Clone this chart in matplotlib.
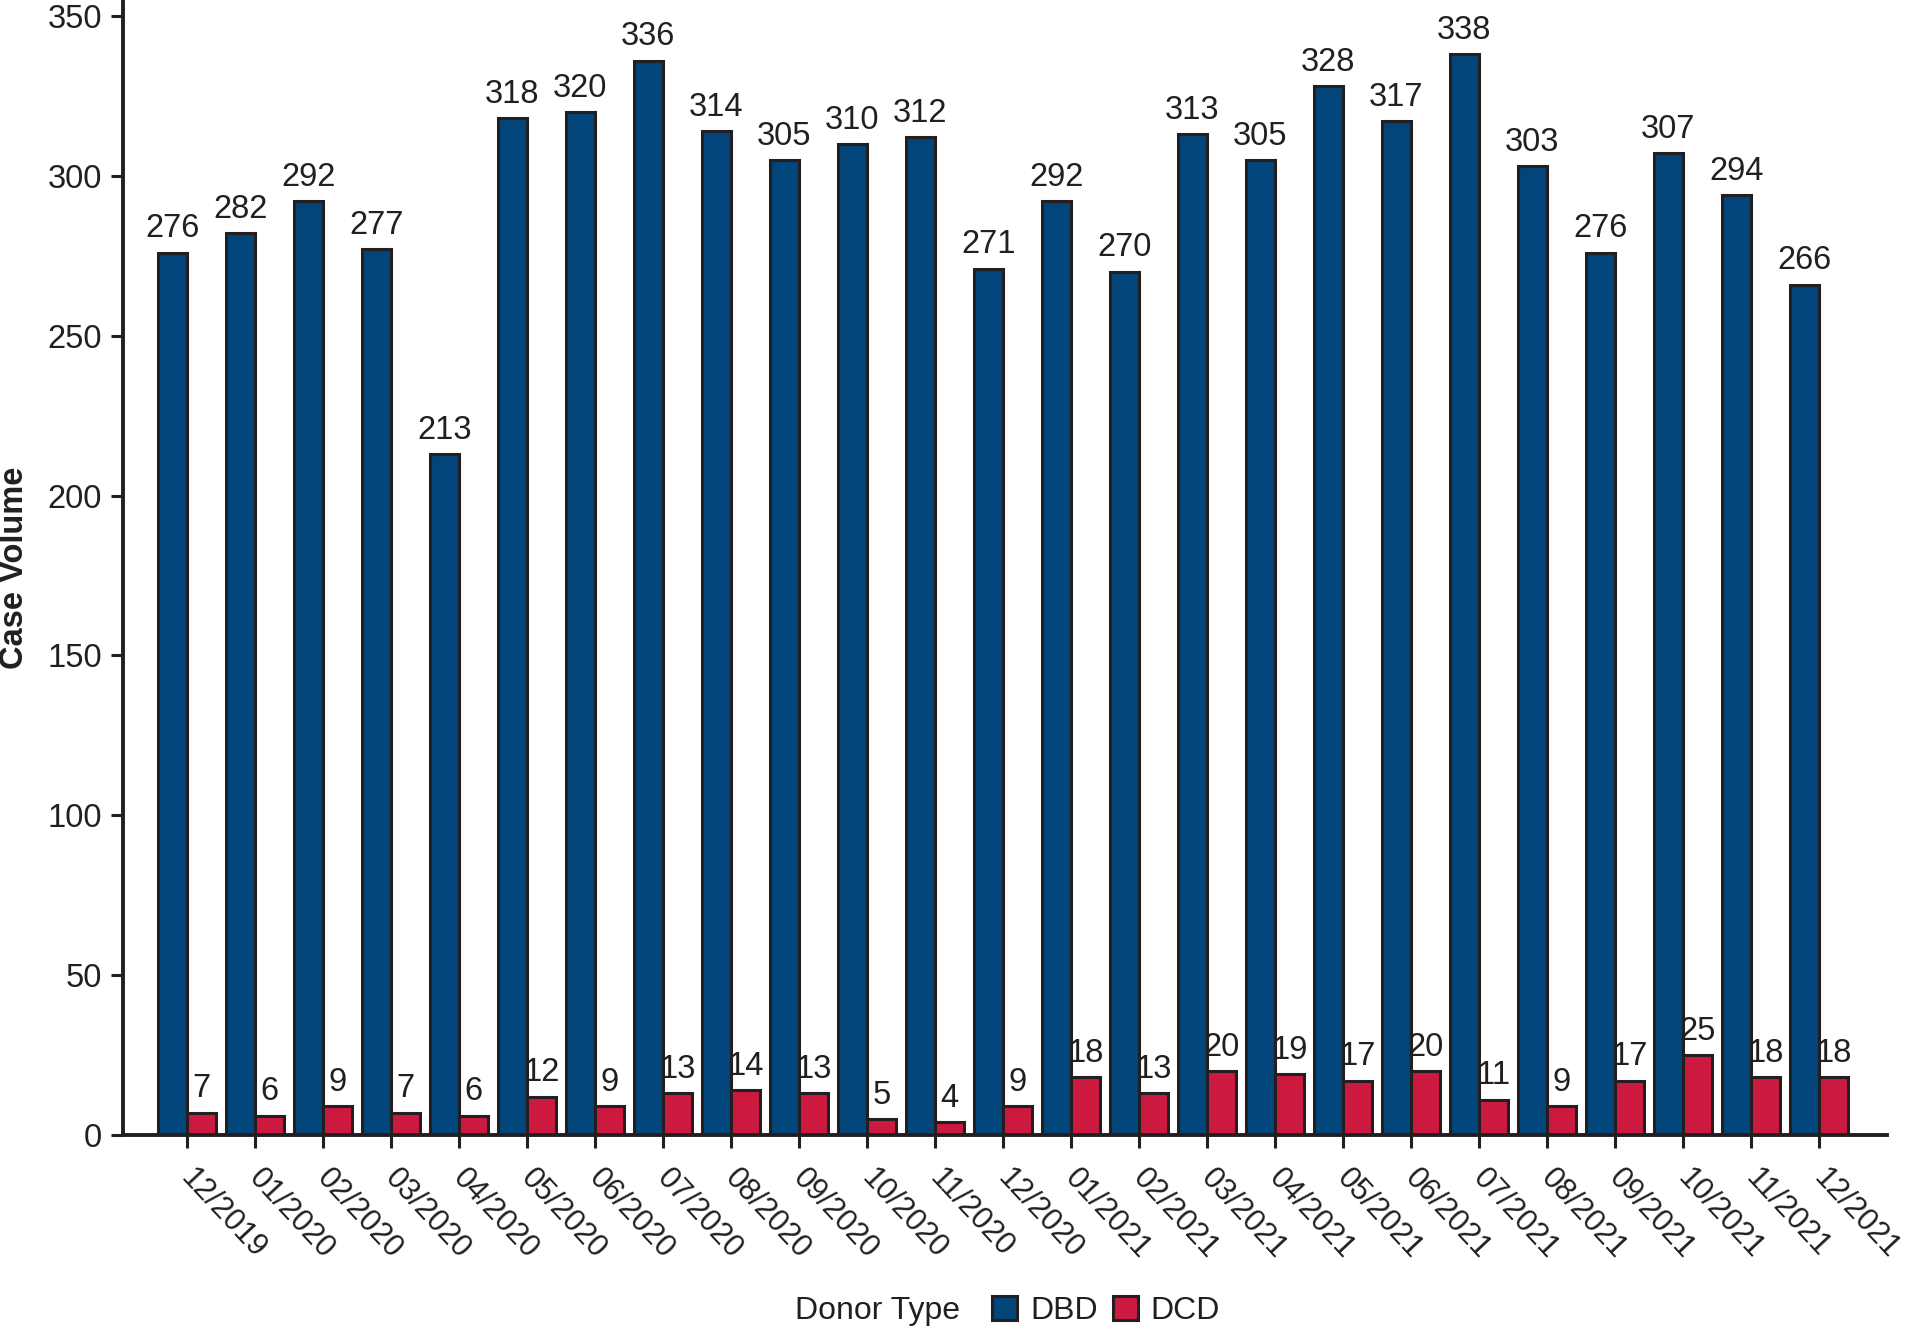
import matplotlib
matplotlib.use("Agg")
import matplotlib.pyplot as plt
import matplotlib.transforms as mtransforms
import numpy as np

months = ["12/2019", "01/2020", "02/2020", "03/2020", "04/2020", "05/2020", "06/2020",
          "07/2020", "08/2020", "09/2020", "10/2020", "11/2020", "12/2020", "01/2021",
          "02/2021", "03/2021", "04/2021", "05/2021", "06/2021", "07/2021", "08/2021",
          "09/2021", "10/2021", "11/2021", "12/2021"]
dbd = [276, 282, 292, 277, 213, 318, 320, 336, 314, 305, 310, 312, 271, 292, 270,
       313, 305, 328, 317, 338, 303, 276, 307, 294, 266]
dcd = [7, 6, 9, 7, 6, 12, 9, 13, 14, 13, 5, 4, 9, 18, 13, 20, 19, 17, 20, 11, 9,
       17, 25, 18, 18]
series_names = ["DBD", "DCD"]
legend_title = "Donor Type"
yticks = [0, 50, 100, 150, 200, 250, 300, 350]

plt.rcParams['font.family'] = ['Liberation Sans', 'DejaVu Sans']
TXT = '#231F20'
BLUE = '#02457A'
RED = '#CC1940'
FS = 23.5
FSX = 22
FSL = 23

W, H = 1907, 1329
fig = plt.figure(figsize=(W / 100, H / 100), dpi=100)
ax = fig.add_axes([123 / W, 1 - 1135 / H, (1887 - 123) / W, 1135 / H])

x = np.arange(len(months))
bw = 0.43
b1 = ax.bar(x - bw / 2, dbd, bw, color=BLUE, edgecolor=TXT, linewidth=2.2, label=series_names[0])
b2 = ax.bar(x + bw / 2, dcd, bw, color=RED, edgecolor=TXT, linewidth=2.2, label=series_names[1])
ax.bar_label(b1, padding=6, fontsize=FS, color=TXT)
ax.bar_label(b2, padding=6, fontsize=FS, color=TXT)

ax.set_xlim(-0.94, 25.0)
ax.set_ylim(0, 355)
ax.set_yticks(yticks)
ax.set_xticks(x)
ax.set_xticklabels(months, rotation=-47, ha='left', va='top', rotation_mode='anchor')
ax.tick_params(axis='both', length=9, width=2.2, color=TXT, labelcolor=TXT)
ax.tick_params(axis='y', labelsize=FS, pad=6)
ax.tick_params(axis='x', labelsize=FSX, pad=8)
offset = mtransforms.ScaledTranslation(0.10, -0.05, fig.dpi_scale_trans)
for lab in ax.get_xticklabels():
    lab.set_transform(lab.get_transform() + offset)
for s in ['top', 'right']:
    ax.spines[s].set_visible(False)
for s in ['left', 'bottom']:
    ax.spines[s].set_linewidth(2.8)
    ax.spines[s].set_color(TXT)

ax.set_ylabel("Case Volume", fontsize=23.5, fontweight='bold', color=TXT)
ax.yaxis.set_label_coords(-0.053, 0.5)

ly = 1 - 1311 / H
fig.text(795 / W, ly, legend_title, fontsize=FSL, color=TXT, ha='left', va='center')
fig.legend(handles=[b1, b2], labels=series_names, loc='center left',
           bbox_to_anchor=(992 / W, ly), ncol=2, frameon=False, fontsize=FSL,
           handlelength=0.78, handleheight=0.78, handletextpad=0.41, columnspacing=0.47,
           borderpad=0, borderaxespad=0, labelcolor=TXT)

fig.savefig("out.png", dpi=100)
